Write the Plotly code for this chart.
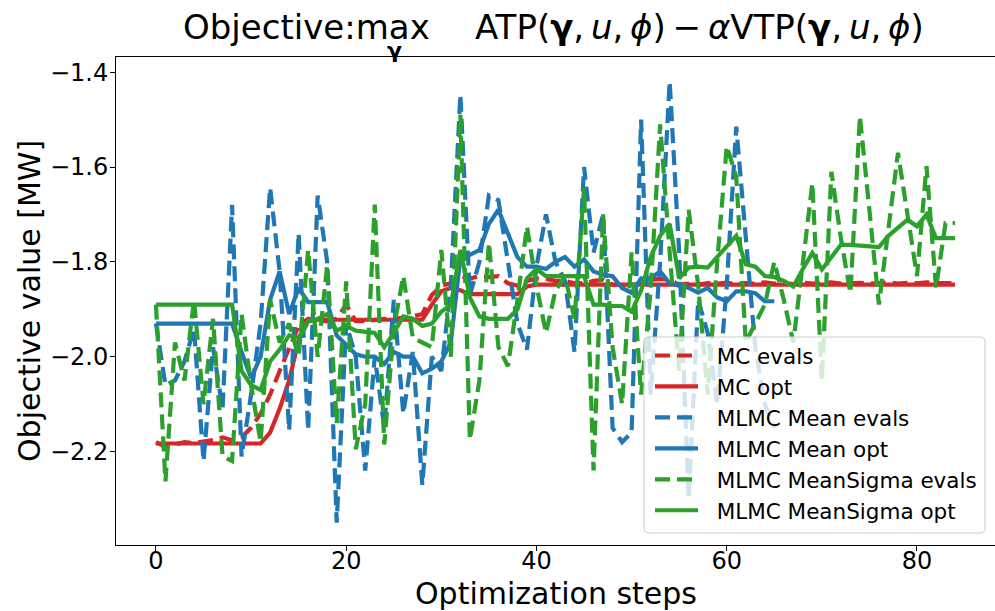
import plotly.graph_objects as go

# ---------------- data ----------------
steps_mc = list(range(85))
steps_mean = list(range(66))
steps_ms = list(range(85))

mc_evals = [
    -2.180, -2.190, -2.185, -2.180, -2.182, -2.180, -2.176, -2.170, -2.176, -2.170,
    -2.150, -2.120, -2.080, -2.030, -1.980, -1.935, -1.920, -1.925, -1.925, -1.920,
    -1.890, -1.925, -1.925, -1.922, -1.920, -1.920, -1.918, -1.915, -1.910, -1.870,
    -1.850, -1.845, -1.830, -1.835, -1.830, -1.832, -1.830, -1.845, -1.850, -1.840,
    -1.835, -1.836, -1.840, -1.840, -1.845, -1.845, -1.840, -1.838, -1.848, -1.850,
    -1.850, -1.845, -1.838, -1.836, -1.838, -1.848, -1.846, -1.848, -1.845, -1.846,
    -1.844, -1.847, -1.845, -1.846, -1.843, -1.846, -1.845, -1.847, -1.844, -1.846,
    -1.845, -1.843, -1.846, -1.845, -1.844, -1.846, -1.845, -1.843, -1.846, -1.844,
    -1.845, -1.843, -1.845, -1.844, -1.845,
]

mc_opt = (
    [-2.183] * 12
    + [-2.160, -2.110, -2.050, -1.965, -1.925]
    + [-1.922] * 12
    + [-1.890, -1.862, -1.855, -1.860]
    + [-1.868] * 6
    + [-1.852]
    + [-1.848] * 45
)

mean_evals = [
    -1.930, -2.060, -2.050, -2.010, -1.940, -2.220, -1.980, -2.110, -1.680, -2.210,
    -2.080, -1.930, -1.644, -1.820, -2.155, -1.740, -2.155, -1.660, -1.800, -2.350,
    -1.930, -2.000, -2.240, -2.000, -2.150, -1.880, -2.120, -1.990, -2.270, -2.000,
    -2.030, -1.850, -1.447, -1.870, -1.800, -1.660, -1.670, -1.800, -1.930, -1.985,
    -1.810, -1.700, -1.800, -1.840, -1.990, -1.600, -1.780, -1.700, -2.150, -2.180,
    -2.160, -1.500, -2.080, -1.800, -1.420, -1.780, -2.300, -1.880, -1.950, -2.100,
    -1.850, -1.515, -1.760, -1.980, -2.100, -2.150,
]

mean_opt = [
    -1.930, -1.930, -1.930, -1.930, -1.930, -1.930, -1.930, -1.930, -1.930, -1.990,
    -2.045, -2.000, -1.880, -1.820, -1.910, -1.855, -1.885, -1.885, -1.885, -1.955,
    -1.975, -1.995, -2.000, -2.000, -2.015, -1.990, -2.000, -2.000, -2.035, -2.025,
    -2.010, -1.970, -1.790, -1.785, -1.775, -1.720, -1.690, -1.740, -1.790, -1.810,
    -1.810, -1.815, -1.800, -1.790, -1.810, -1.795, -1.820, -1.827, -1.830, -1.855,
    -1.865, -1.835, -1.835, -1.820, -1.845, -1.850, -1.855, -1.865, -1.855, -1.875,
    -1.883, -1.862, -1.862, -1.866, -1.883, -1.883,
]

ms_evals = [
    -1.890, -2.263, -1.970, -2.050, -1.880, -2.100, -1.920, -2.210, -2.220, -1.910,
    -2.060, -2.180, -1.880, -1.970, -1.930, -2.000, -1.775, -2.000, -1.806, -2.140,
    -1.841, -2.195, -2.100, -1.679, -2.185, -1.940, -1.830, -1.960, -1.970, -1.980,
    -1.775, -2.000, -1.490, -2.175, -2.050, -1.760, -1.980, -2.020, -1.880, -1.725,
    -1.850, -1.950, -1.860, -1.830, -1.920, -1.645, -2.240, -1.700, -1.980, -2.100,
    -1.780, -2.080, -1.860, -1.510, -1.780, -2.030, -1.690, -1.850, -2.080, -1.800,
    -1.556, -1.620, -1.970, -1.930, -1.890, -1.800, -1.880, -1.970, -1.800, -1.634,
    -2.050, -1.610, -1.750, -1.866, -1.493, -1.700, -1.890, -1.730, -1.570, -1.700,
    -1.830, -1.598, -1.855, -1.718, -1.718,
]

ms_opt = [
    -1.890, -1.890, -1.890, -1.890, -1.890, -1.890, -1.890, -1.890, -1.890, -2.030,
    -2.060, -2.070, -2.010, -1.985, -1.955, -1.960, -1.925, -1.920, -1.910, -1.945,
    -1.935, -1.945, -1.948, -1.950, -1.980, -1.950, -1.915, -1.920, -1.935, -1.930,
    -1.905, -1.890, -1.775, -1.875, -1.915, -1.920, -1.920, -1.920, -1.900, -1.835,
    -1.815, -1.830, -1.830, -1.830, -1.830, -1.830, -1.890, -1.890, -1.893, -1.893,
    -1.905, -1.860, -1.790, -1.745, -1.720, -1.835, -1.812, -1.810, -1.812, -1.790,
    -1.770, -1.745, -1.805, -1.810, -1.830, -1.832, -1.840, -1.852, -1.815, -1.781,
    -1.816, -1.790, -1.764, -1.764, -1.766, -1.768, -1.769, -1.745, -1.729, -1.711,
    -1.725, -1.700, -1.750, -1.750, -1.750,
]

x_ticks = [0, 20, 40, 60, 80]
y_ticks = [-2.2, -2.0, -1.8, -1.6, -1.4]
y_ticktext = ["\u22122.2", "\u22122.0", "\u22121.8", "\u22121.6", "\u22121.4"]

RED, BLUE, GREEN = "#d62728", "#1f77b4", "#2ca02c"
FONT = "DejaVu Sans"
DASH = "15px,7px"
LW = 4.2

# ---------------- figure ----------------
fig = go.Figure()
series = [
    (steps_mc, mc_evals, "MC evals", RED, DASH),
    (steps_mc, mc_opt, "MC opt", RED, "solid"),
    (steps_mean, mean_evals, "MLMC Mean evals", BLUE, DASH),
    (steps_mean, mean_opt, "MLMC Mean opt", BLUE, "solid"),
    (steps_ms, ms_evals, "MLMC MeanSigma evals", GREEN, DASH),
    (steps_ms, ms_opt, "MLMC MeanSigma opt", GREEN, "solid"),
]
NB = "\u00a0\u00a0"
for xs, ys, name, color, dash in series:
    fig.add_trace(go.Scatter(
        x=xs, y=ys, mode="lines", name=NB + name,
        line=dict(color=color, width=LW, dash=dash),
    ))

L, R, T, B = 116, 0, 57, 66
W, H = 995, 611
pw, ph = W - L - R, H - T - B


def px_x(px):
    return (px - L) / pw


def px_y(py):
    return (H - B - py) / ph


axis_common = dict(
    showline=True, linecolor="black", linewidth=1, mirror=True,
    ticks="outside", ticklen=5, tickwidth=1, tickcolor="black",
    showgrid=False, zeroline=False,
    tickfont=dict(family=FONT, size=24, color="black"),
)

# legend frame: translucent white box with rounded corners
bx0, bx1, by0, by1, rad = 644, 985, 337, 533, 5
rx, ry = rad / pw, rad / ph
X0, X1, Y0, Y1 = px_x(bx0), px_x(bx1), px_y(by1), px_y(by0)
frame_path = (
    f"M{X0 + rx},{Y1} L{X1 - rx},{Y1} Q{X1},{Y1} {X1},{Y1 - ry} "
    f"L{X1},{Y0 + ry} Q{X1},{Y0} {X1 - rx},{Y0} "
    f"L{X0 + rx},{Y0} Q{X0},{Y0} {X0},{Y0 + ry} "
    f"L{X0},{Y1 - ry} Q{X0},{Y1} {X0 + rx},{Y1} Z"
)

fig.update_layout(
    width=W, height=H,
    margin=dict(l=L, r=R, t=T, b=B),
    paper_bgcolor="white", plot_bgcolor="white",
    font=dict(family=FONT, color="black"),
    xaxis=dict(range=[-4.2, 88.2], tickvals=x_ticks, ticklabelstandoff=-11,
               **axis_common),
    yaxis=dict(range=[-2.397, -1.368], tickvals=y_ticks, ticktext=y_ticktext,
               ticklabelstandoff=-3, **axis_common),
    legend=dict(
        x=px_x(bx0 + 6), y=px_y(by1 - 2), xanchor="left", yanchor="bottom",
        bgcolor="rgba(0,0,0,0)", borderwidth=0, itemwidth=43,
        font=dict(family=FONT, size=21.5, color="black"),
    ),
    shapes=[dict(
        type="path", path=frame_path, xref="paper", yref="paper",
        fillcolor="rgba(255,255,255,0.8)", line=dict(color="#cccccc", width=1),
        layer="above",
    )],
    showlegend=True,
)

annotations = [
    # title, left part
    dict(text="Objective:max", x=px_x(432), y=px_y(27), xanchor="right",
         yanchor="middle", font=dict(size=34)),
    # subscript under "max"
    dict(text="<b>\u03b3</b>", x=px_x(394), y=px_y(51), xanchor="center",
         yanchor="middle", font=dict(size=22)),
    # title, right part
    dict(text="ATP(<b>\u03b3</b>,\u2009<i>u</i>,\u2009<i>\u03d5</i>)\u2009\u2212\u2009<i>\u03b1</i>VTP(<b>\u03b3</b>,\u2009<i>u</i>,\u2009<i>\u03d5</i>)",
         x=px_x(473), y=px_y(27), xanchor="left", yanchor="middle",
         font=dict(size=34)),
    # axis titles
    dict(text="Optimization steps", x=px_x(556), y=px_y(593), xanchor="center",
         yanchor="middle", font=dict(size=30)),
    dict(text="Objective value [MW]", x=px_x(29), y=px_y(301), xanchor="center",
         yanchor="middle", textangle=-90, font=dict(size=30)),
]
for a in annotations:
    a.update(xref="paper", yref="paper", showarrow=False)
    a["font"].update(family=FONT, color="black")
fig.update_layout(annotations=annotations)

fig.write_html("out.html")
